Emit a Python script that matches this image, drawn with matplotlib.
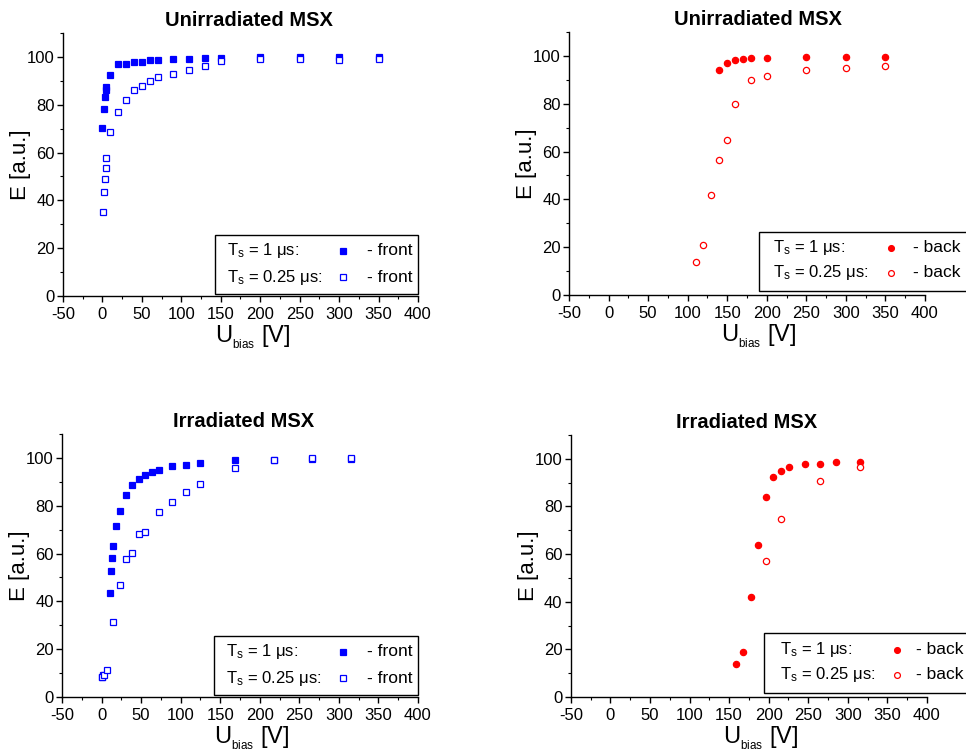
"""Charge collection efficiency vs bias voltage for unirradiated and irradiated MSX sensors."""

import matplotlib.pyplot as plt
from matplotlib.patches import Rectangle
from matplotlib.ticker import MultipleLocator

plt.rcParams["font.family"] = ["Liberation Sans", "DejaVu Sans"]
plt.rcParams["mathtext.default"] = "regular"
plt.rcParams["axes.unicode_minus"] = False

BLUE = "#0000FF"
RED = "#FF0000"

# Unirradiated, front side
unirr_front_1us_u = [0, 2, 3, 4, 5, 10, 20, 30, 40, 50, 60, 70, 90, 110, 130, 150, 200, 250, 300, 350]
unirr_front_1us_e = [70.4, 78.4, 83.1, 86.0, 87.6, 92.5, 97.2, 97.1, 97.8, 98.0, 98.6, 98.7,
                     99.2, 99.3, 99.6, 99.7, 99.9, 99.9, 99.9, 99.9]
unirr_front_025us_u = [1, 2, 3, 4, 5, 10, 20, 30, 40, 50, 60, 70, 90, 110, 130, 150, 200, 250, 300, 350]
unirr_front_025us_e = [35.2, 43.6, 49.0, 53.6, 57.8, 68.7, 77.1, 82.1, 86.3, 88.0, 89.8, 91.5,
                       93.0, 94.7, 96.4, 98.2, 99.0, 99.0, 98.9, 99.0]

# Unirradiated, back side
unirr_back_1us_u = [140, 150, 160, 170, 180, 200, 250, 300, 350]
unirr_back_1us_e = [94.1, 97.2, 98.3, 98.7, 99.2, 99.3, 99.6, 99.7, 99.7]
unirr_back_025us_u = [110, 120, 130, 140, 150, 160, 180, 200, 250, 300, 350]
unirr_back_025us_e = [13.8, 20.9, 42.0, 56.6, 64.7, 79.7, 89.9, 91.6, 94.1, 95.0, 95.8]

# Irradiated, front side
irr_front_1us_u = [0, 2, 10.5, 12, 13.5, 15, 18.5, 23, 31, 39, 47, 55, 64, 72.5,
                   89, 107, 124, 169, 218, 266, 315]
irr_front_1us_e = [8.4, 9.3, 43.6, 52.7, 58.1, 63.1, 71.4, 77.7, 84.6, 88.7, 91.3, 93.0, 94.1, 95.0,
                   96.5, 97.2, 97.9, 99.1, 99.2, 99.7, 99.7]
irr_front_025us_u = [1, 3, 7, 15, 23, 31, 39, 47, 55, 72.5, 89, 107, 124, 169, 218, 266, 315]
irr_front_025us_e = [8.2, 9.4, 11.2, 31.4, 46.9, 57.8, 60.3, 68.0, 69.1, 77.2, 81.4, 85.6, 89.0,
                     95.6, 99.0, 99.8, 99.8]

# Irradiated, back side
irr_back_1us_u = [159, 168, 178, 187, 196, 206, 216, 226, 246, 265, 285, 315]
irr_back_1us_e = [13.9, 19.0, 42.0, 63.7, 84.1, 92.3, 94.8, 96.4, 97.9, 98.0, 98.6, 98.6]
irr_back_025us_u = [196, 216, 265, 315]
irr_back_025us_e = [57.0, 74.6, 90.6, 96.5]

TITLES = ["Unirradiated MSX", "Unirradiated MSX", "Irradiated MSX", "Irradiated MSX"]
TITLE_X = [0.523, 0.531, 0.511, 0.494]
AX_RECTS = [
    [0.0652, 0.6074, 0.3675, 0.3488],
    [0.5890, 0.6088, 0.3685, 0.3488],
    [0.0642, 0.0756, 0.3685, 0.3488],
    [0.5910, 0.0756, 0.3685, 0.3475],
]


def style_axes(ax, title, title_x):
    ax.set_xlim(-50, 400)
    ax.set_ylim(0, 110)
    ax.xaxis.set_major_locator(MultipleLocator(50))
    ax.xaxis.set_minor_locator(MultipleLocator(25))
    ax.yaxis.set_major_locator(MultipleLocator(20))
    ax.yaxis.set_minor_locator(MultipleLocator(10))
    ax.spines["top"].set_visible(False)
    ax.spines["right"].set_visible(False)
    for side in ("left", "bottom"):
        ax.spines[side].set_linewidth(1.0)
    ax.tick_params(which="major", direction="out", length=4, width=1.0, labelsize=12, pad=2)
    ax.tick_params(axis="x", which="major", pad=4)
    ax.tick_params(which="minor", direction="out", length=2.5, width=0.8)
    ax.set_title(title, fontsize=14.5, fontweight="bold", pad=5, x=title_x)
    ax.set_xlabel(r"U$_{{}_{bias}}$ [V]", fontsize=17)
    ax.xaxis.set_label_coords(0.534, -0.105)
    ax.set_ylabel("E [a.u.]", fontsize=16)
    ax.yaxis.set_label_coords(-0.09, 0.5)


def draw_legend(ax, marker, color, side_label, box):
    x0, y0, x1, y1, x_text, x_marker, x_side, rows = box
    rect = Rectangle((x0, y0), x1 - x0, y1 - y0, transform=ax.transAxes,
                     facecolor="white", edgecolor="black", linewidth=1.0,
                     clip_on=False, zorder=5)
    ax.add_patch(rect)
    labels = [r"T$_s$ = 1 μs:", r"T$_s$ = 0.25 μs:"]
    faces = [color, "white"]
    for label, face, y in zip(labels, faces, rows):
        ax.text(x_text, y, label, transform=ax.transAxes, fontsize=12,
                va="center", ha="left", zorder=6, clip_on=False)
        ax.plot([x_marker], [y], marker=marker, ms=4.2, mfc=face, mec=color, mew=0.9,
                transform=ax.transAxes, clip_on=False, zorder=6, ls="none")
        ax.text(x_side, y, side_label, transform=ax.transAxes, fontsize=12.5,
                va="center", ha="left", zorder=6, clip_on=False)


def scatter_pair(ax, u1, e1, u2, e2, marker, color, ms):
    ax.plot(u1, e1, ls="none", marker=marker, ms=ms, mfc=color, mec=color, mew=0.9, zorder=3)
    ax.plot(u2, e2, ls="none", marker=marker, ms=ms, mfc="white", mec=color, mew=0.9, zorder=4)


def main():
    fig = plt.figure(figsize=(9.66, 7.54), dpi=100)
    axes = [fig.add_axes(r) for r in AX_RECTS]

    scatter_pair(axes[0], unirr_front_1us_u, unirr_front_1us_e,
                 unirr_front_025us_u, unirr_front_025us_e, "s", BLUE, 4.0)
    scatter_pair(axes[1], unirr_back_1us_u, unirr_back_1us_e,
                 unirr_back_025us_u, unirr_back_025us_e, "o", RED, 4.5)
    scatter_pair(axes[2], irr_front_1us_u, irr_front_1us_e,
                 irr_front_025us_u, irr_front_025us_e, "s", BLUE, 4.0)
    scatter_pair(axes[3], irr_back_1us_u, irr_back_1us_e,
                 irr_back_025us_u, irr_back_025us_e, "o", RED, 4.5)

    for ax, title, tx in zip(axes, TITLES, TITLE_X):
        style_axes(ax, title, tx)

    front_box = (0.428, 0.008, 1.0, 0.232, 0.462, 0.789, 0.856, (0.172, 0.072))
    draw_legend(axes[0], "s", BLUE, "- front", front_box)
    draw_legend(axes[2], "s", BLUE, "- front", front_box)
    draw_legend(axes[1], "o", RED, "- back",
                (0.534, 0.015, 1.2, 0.240, 0.573, 0.904, 0.966, (0.180, 0.084)))
    draw_legend(axes[3], "o", RED, "- back",
                (0.542, 0.015, 1.2, 0.244, 0.587, 0.916, 0.969, (0.180, 0.084)))

    fig.savefig("out.png", dpi=100)
    plt.close(fig)


if __name__ == "__main__":
    main()
